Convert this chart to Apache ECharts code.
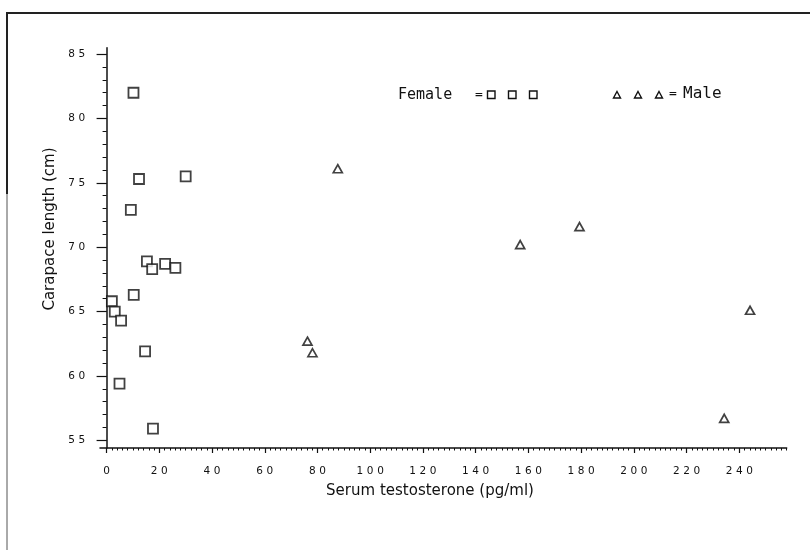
<!DOCTYPE html>
<html>
<head>
<meta charset="utf-8">
<title>Carapace length vs serum testosterone</title>
<script src="https://cdn.jsdelivr.net/npm/echarts@6/dist/echarts.min.js"></script>
<style>
  html, body { margin: 0; padding: 0; background: #fff; }
  #chart { width: 810px; height: 550px; }
</style>
</head>
<body>
<div id="chart"></div>
<script>
// Serum testosterone (pg/ml) and carapace length (cm), one entry per animal
const femaleTestosterone = [10.2, 12.3, 30.0, 9.2, 15.3, 17.3, 22.2, 26.1, 10.3, 2.0, 3.1, 5.5, 14.6, 4.9, 17.6];
const femaleCarapace     = [82.0, 75.3, 75.5, 72.9, 68.9, 68.3, 68.7, 68.4, 66.3, 65.8, 65.0, 64.3, 61.9, 59.4, 55.9];

const maleTestosterone = [87.7, 179.4, 156.9, 244.1, 76.2, 78.1, 234.3];
const maleCarapace     = [76.1, 71.6, 70.2, 65.1, 62.7, 61.8, 56.7];

// Labelled ticks on each axis
const xTickLabels = [0, 20, 40, 60, 80, 100, 120, 140, 160, 180, 200, 220, 240];
const yTickLabels = [55, 60, 65, 70, 75, 80, 85];

// Axis extents
const X_MIN = -2.5, X_MAX = 258;
const Y_MIN = 54.4, Y_MAX = 85.5;

// Small unlabelled ticks: every 2 pg/ml and every 1 cm
const xMinorTicks = [];
for (let v = 0; v <= 258; v += 2) xMinorTicks.push(v);
const yMinorTicks = [];
for (let v = 55; v <= 85; v += 1) yMinorTicks.push(v);

const toPairs = (xs, ys) => xs.map((x, i) => [x, ys[i]]);

const INK = '#111';

// Tick numbers are typeset with open spacing between digits
const spacedDigits = v => String(v).split('').map(d => '{d|' + d + '}').join('');
const tickRich = { d: { color: INK, fontSize: 10.5, fontFamily: 'DejaVu Sans', padding: [0, 1.8, 0, 1.8] } };

const chart = echarts.init(document.getElementById('chart'), null, { renderer: 'canvas' });

const hiddenParts = {
  splitLine: { show: false },
  minorTick: { show: false },
  minorSplitLine: { show: false }
};

chart.setOption({
  animation: false,
  backgroundColor: '#fff',
  grid: { left: 100, right: 23.3, top: 47.7, bottom: 102, containLabel: false },
  xAxis: [
    {
      type: 'value', min: X_MIN, max: X_MAX, position: 'bottom',
      axisLine: { show: true, lineStyle: { color: INK, width: 1.5 } },
      axisTick: { show: true, customValues: xTickLabels, length: 5, inside: false, lineStyle: { color: INK, width: 1.2 } },
      axisLabel: { show: true, customValues: xTickLabels, margin: 18, formatter: spacedDigits, rich: tickRich },
      ...hiddenParts
    },
    {
      type: 'value', min: X_MIN, max: X_MAX, position: 'bottom',
      axisLine: { show: false },
      axisTick: { show: true, customValues: xMinorTicks, length: 2.5, inside: false, lineStyle: { color: INK, width: 1 } },
      axisLabel: { show: false },
      ...hiddenParts
    }
  ],
  yAxis: [
    {
      type: 'value', min: Y_MIN, max: Y_MAX, position: 'left',
      axisLine: { show: true, lineStyle: { color: INK, width: 1.5 } },
      axisTick: { show: true, customValues: yTickLabels, length: 10, inside: false, lineStyle: { color: INK, width: 1.2 } },
      axisLabel: { show: true, customValues: yTickLabels, margin: 13, formatter: spacedDigits, rich: tickRich },
      ...hiddenParts
    },
    {
      type: 'value', min: Y_MIN, max: Y_MAX, position: 'left',
      axisLine: { show: false },
      axisTick: { show: true, customValues: yMinorTicks, length: 4, inside: false, lineStyle: { color: INK, width: 1 } },
      axisLabel: { show: false },
      ...hiddenParts
    }
  ],
  series: [
    {
      name: 'Female', type: 'scatter', xAxisIndex: 0, yAxisIndex: 0,
      data: toPairs(femaleTestosterone, femaleCarapace),
      symbol: 'rect', symbolSize: 10,
      itemStyle: { color: '#fff', borderColor: INK, borderWidth: 1.8 },
      emphasis: { disabled: true }
    },
    {
      name: 'Male', type: 'scatter', xAxisIndex: 0, yAxisIndex: 0,
      data: toPairs(maleTestosterone, maleCarapace),
      symbol: 'triangle', symbolSize: [9, 8],
      itemStyle: { color: '#fff', borderColor: INK, borderWidth: 1.7 },
      emphasis: { disabled: true }
    }
  ],
  graphic: [
    // page frame
    { type: 'line', shape: { x1: 6, y1: 13, x2: 810, y2: 13 }, style: { stroke: '#222', lineWidth: 2 } },
    { type: 'line', shape: { x1: 7, y1: 12, x2: 7, y2: 194 }, style: { stroke: '#222', lineWidth: 2 } },
    { type: 'line', shape: { x1: 7, y1: 194, x2: 7, y2: 550 }, style: { stroke: '#555', lineWidth: 1 } },
    // axis titles
    {
      type: 'text', x: 50, y: 229, rotation: Math.PI / 2,
      style: { text: 'Carapace length (cm)', fill: INK, font: '15px "DejaVu Sans"', align: 'center', verticalAlign: 'middle' }
    },
    {
      type: 'text', x: 430, y: 491,
      style: { text: 'Serum testosterone (pg/ml)', fill: INK, font: '15px "DejaVu Sans"', align: 'center', verticalAlign: 'middle' }
    },
    // key
    { type: 'text', x: 398, y: 95, style: { text: 'Female', fill: INK, font: '15px "DejaVu Sans Mono"', align: 'left', verticalAlign: 'middle' } },
    { type: 'text', x: 479, y: 95, style: { text: '=', fill: INK, font: '13px "DejaVu Sans Mono"', align: 'center', verticalAlign: 'middle' } },
    { type: 'rect', shape: { x: 487.5, y: 91, width: 7.5, height: 7.5 }, style: { fill: '#fff', stroke: INK, lineWidth: 1.4 } },
    { type: 'rect', shape: { x: 508.5, y: 91, width: 7.5, height: 7.5 }, style: { fill: '#fff', stroke: INK, lineWidth: 1.4 } },
    { type: 'rect', shape: { x: 529.5, y: 91, width: 7.5, height: 7.5 }, style: { fill: '#fff', stroke: INK, lineWidth: 1.4 } },
    { type: 'polygon', shape: { points: [[617, 91.5], [620.5, 98], [613.5, 98]] }, style: { fill: '#fff', stroke: INK, lineWidth: 1.4 } },
    { type: 'polygon', shape: { points: [[638, 91.5], [641.5, 98], [634.5, 98]] }, style: { fill: '#fff', stroke: INK, lineWidth: 1.4 } },
    { type: 'polygon', shape: { points: [[659, 91.5], [662.5, 98], [655.5, 98]] }, style: { fill: '#fff', stroke: INK, lineWidth: 1.4 } },
    { type: 'text', x: 673, y: 94, style: { text: '=', fill: INK, font: '13px "DejaVu Sans Mono"', align: 'center', verticalAlign: 'middle' } },
    { type: 'text', x: 683, y: 94, style: { text: 'Male', fill: INK, font: '16px "DejaVu Sans Mono"', align: 'left', verticalAlign: 'middle' } }
  ]
});
</script>
</body>
</html>
